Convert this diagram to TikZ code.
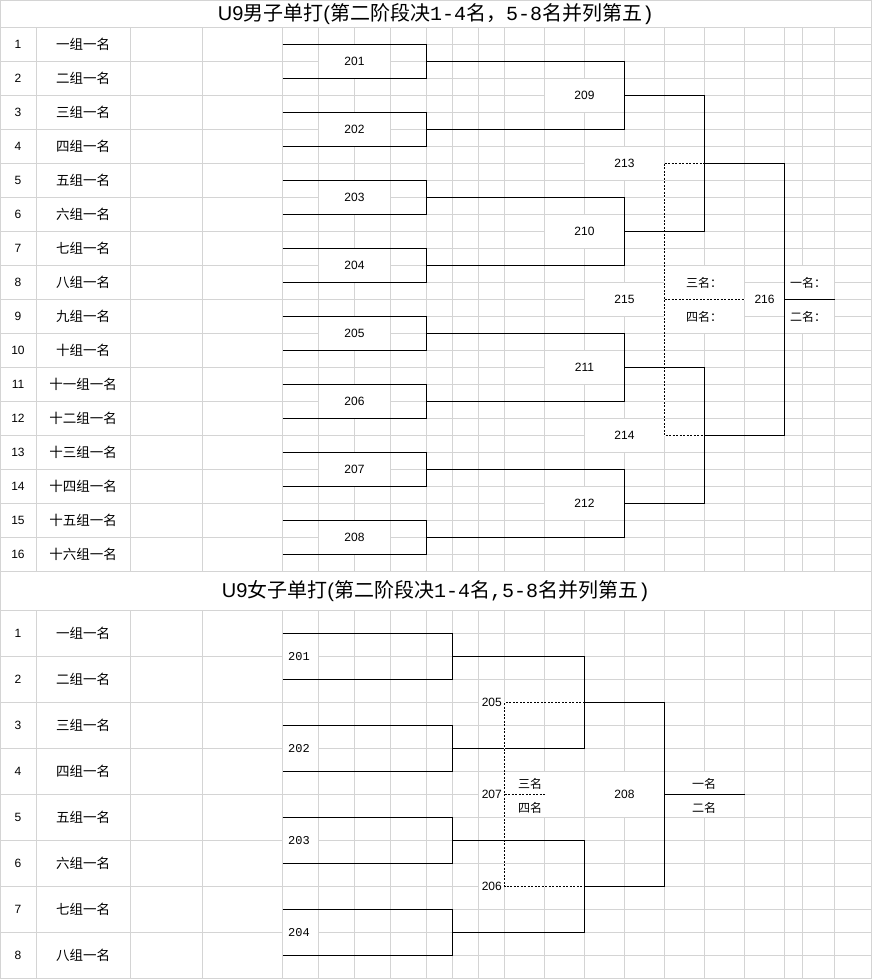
\documentclass[tikz,border=0pt]{standalone}
\usepackage{fontspec}
\setmainfont{Liberation Sans}
\newfontfamily\cjk{Noto Sans CJK SC}
\newfontfamily\monof{Liberation Mono}
\newcommand\zh[1]{{\cjk #1}}
\newcommand\mo[1]{{\monof #1}}
\definecolor{gridc}{HTML}{D4D4D4}
\begin{document}
\begin{tikzpicture}[x=1pt,y=-1pt,
  gridline/.style={draw=gridc,line width=1pt},
  br/.style={draw=black,line width=1pt},
  dbr/.style={draw=black,line width=1pt,dash pattern=on 2pt off 1.5pt,
    preaction={draw=white,line width=1.4pt,solid}},
  ttl/.style={inner sep=0pt,font=\fontsize{20}{24}\selectfont},
  num/.style={inner sep=0pt,font=\fontsize{12}{14}\selectfont},
  nm/.style={inner sep=0pt,font=\cjk\fontsize{13.5}{16}\selectfont},
  sm/.style={inner sep=0pt,font=\cjk\fontsize{12}{14}\selectfont},
  mlab/.style={inner sep=0pt,font=\monof\fontsize{12}{14}\selectfont}]
\useasboundingbox (0,0) rectangle (872,979);
\fill[white] (0,0) rectangle (872,979);
\begin{scope}[shift={(0.5,0.5)}]
% ---------- grid, top section
\foreach \y in {27,61,...,571} \draw[gridline] (0,\y) -- (282,\y);
\foreach \y in {27,44,...,571} \draw[gridline] (282,\y) -- (871,\y);
\foreach \x in {36,130,202,282,318,354,390,426,452,478,504,544,584,624,664,704,744,784,802,834}
  \draw[gridline] (\x,27) -- (\x,571);
% ---------- grid, bottom section
\foreach \y in {610,656,...,978} \draw[gridline] (0,\y) -- (282,\y);
\foreach \y in {610,633,...,978} \draw[gridline] (282,\y) -- (871,\y);
\foreach \x in {36,130,202,282,318,354,390,426,452,478,504,544,584,624,664,704,744,784,802,834}
  \draw[gridline] (\x,610) -- (\x,978);
\draw[gridline] (0,0) rectangle (871,978);
% ---------- merged cells
\foreach \a/\b/\c/\d in {
  318/44/390/78, 318/112/390/146, 318/180/390/214, 318/248/390/282,
  318/316/390/350, 318/384/390/418, 318/452/390/486, 318/520/390/554,
  544/78/624/112, 544/214/624/248, 544/350/624/384, 544/486/624/520,
  584/146/664/180, 584/282/664/316, 584/418/664/452,
  664/265/744/333, 744/282/784/316, 784/265/834/333,
  282/633/318/679, 282/725/318/771, 282/817/318/863, 282/909/318/955,
  478/679/504/725, 478/771/504/817, 478/863/504/909,
  504/771/584/817, 584/771/664/817, 664/771/744/817}
  \fill[white] (\a+0.5,\b+0.5) rectangle (\c-0.5,\d-0.5);
% ---------- top bracket
\foreach \i in {0,...,7}{
  \pgfmathtruncatemacro\yt{44+68*\i}
  \pgfmathtruncatemacro\yb{78+68*\i}
  \pgfmathtruncatemacro\ym{61+68*\i}
  \coordinate (ta\i) at (282,\yt);
  \coordinate (tb\i) at (426,\yt);
  \coordinate (tc\i) at (426,\yb);
  \coordinate (td\i) at (282,\yb);
  \coordinate (to\i) at (426,\ym);
  \coordinate (tp\i) at (624,\ym);
  \draw[br] (ta\i) -- (tb\i) -- (tc\i) -- (td\i);
  \draw[br] (to\i) -- (tp\i);
}
\foreach \j/\k/\l in {0/0/1,1/2/3,2/4/5,3/6/7}{
  \pgfmathtruncatemacro\ym{95+136*\j}
  \coordinate (tq\j) at (624,\ym);
  \coordinate (tr\j) at (704,\ym);
  \draw[br] (tp\k) -- (tp\l);
  \draw[br] (tq\j) -- (tr\j);
}
\coordinate (ts1a) at (704,163); \coordinate (ts1b) at (784,163);
\coordinate (ts2a) at (704,435); \coordinate (ts2b) at (784,435);
\coordinate (tf1) at (784,299);  \coordinate (tf2) at (834,299);
\coordinate (td1) at (664,163);  \coordinate (td2) at (664,435);
\coordinate (td3) at (664,299);  \coordinate (td4) at (744,299);
\draw[dbr] (td1) -- (ts1a);
\draw[dbr] (td1) -- (td2) -- (ts2a);
\draw[dbr] (td3) -- (td4);
\draw[br] (tr0) -- (tr1);
\draw[br] (tr2) -- (tr3);
\draw[br] (ts1a) -- (ts1b) -- (ts2b) -- (ts2a);
\draw[br] (tf1) -- (tf2);
% ---------- bottom bracket
\foreach \i in {0,...,3}{
  \pgfmathtruncatemacro\yt{633+92*\i}
  \pgfmathtruncatemacro\yb{679+92*\i}
  \pgfmathtruncatemacro\ym{656+92*\i}
  \coordinate (ba\i) at (282,\yt);
  \coordinate (bb\i) at (452,\yt);
  \coordinate (bc\i) at (452,\yb);
  \coordinate (bd\i) at (282,\yb);
  \coordinate (bo\i) at (452,\ym);
  \coordinate (bp\i) at (584,\ym);
  \draw[br] (ba\i) -- (bb\i) -- (bc\i) -- (bd\i);
  \draw[br] (bo\i) -- (bp\i);
}
\coordinate (bq0) at (584,702); \coordinate (br0) at (664,702);
\coordinate (bq1) at (584,886); \coordinate (br1) at (664,886);
\coordinate (bf1) at (664,794); \coordinate (bf2) at (744,794);
\coordinate (bd1) at (504,702); \coordinate (bd2) at (504,886);
\coordinate (bd3) at (504,794); \coordinate (bd4) at (544,794);
\draw[dbr] (bq0) -- (bd1) -- (bd2) -- (bq1);
\draw[dbr] (bd3) -- (bd4);
\draw[br] (bp0) -- (bp1);
\draw[br] (bp2) -- (bp3);
\draw[br] (bq0) -- (br0) -- (br1) -- (bq1);
\draw[br] (bf1) -- (bf2);
\end{scope}
% ---------- titles
\node[ttl] (title1) at (436,14.5) {U9\zh{男子单打}(\zh{第二阶段决}\mo{1-4}\zh{名，}\mo{5-8}\zh{名并列第五}\mo{)}};
\node[ttl] (title2) at (436,591) {U9\zh{女子单打}(\zh{第二阶段决}\mo{1-4}\zh{名}\mo{,5-8}\zh{名并列第五}\mo{)}};
% ---------- top names
\foreach \n/\t [count=\c from 0] in {1/一组一名,2/二组一名,3/三组一名,4/四组一名,5/五组一名,6/六组一名,7/七组一名,8/八组一名,9/九组一名,10/十组一名,11/十一组一名,12/十二组一名,13/十三组一名,14/十四组一名,15/十五组一名,16/十六组一名}{
  \node[num] (tn\n) at (18,44+34*\c) {\n};
  \node[nm] (tname\n) at (83,44+34*\c) {\t};
}
% ---------- bottom names
\foreach \n/\t [count=\c from 0] in {1/一组一名,2/二组一名,3/三组一名,4/四组一名,5/五组一名,6/六组一名,7/七组一名,8/八组一名}{
  \node[num] (bn\n) at (18,633.5+46*\c) {\n};
  \node[nm] (bname\n) at (83,633.5+46*\c) {\t};
}
% ---------- top match labels
\foreach \i in {0,...,7}{
  \pgfmathtruncatemacro\lab{201+\i}
  \node[num] (tm\lab) at (354.5,61.5+68*\i) {\lab};
}
\foreach \j in {0,...,3}{
  \pgfmathtruncatemacro\lab{209+\j}
  \node[num] (tm\lab) at (584.5,95.5+136*\j) {\lab};
}
\node[num] (tm213) at (624.5,163.5) {213};
\node[num] (tm215) at (624.5,299.5) {215};
\node[num] (tm214) at (624.5,435.5) {214};
\node[num] (tm216) at (764.5,299.5) {216};
\node[sm] (t3) at (704,283) {三名：};
\node[sm] (t4) at (704,317) {四名：};
\node[sm] (t1) at (808,283) {一名：};
\node[sm] (t2) at (808,317) {二名：};
% ---------- bottom match labels
\foreach \i in {0,...,3}{
  \pgfmathtruncatemacro\lab{201+\i}
  \node[mlab,anchor=west] (bm\lab) at (288,657+92*\i) {\lab};
}
\node[num,anchor=east] (bm205) at (502,702.5) {205};
\node[num,anchor=east] (bm207) at (502,794.5) {207};
\node[num,anchor=east] (bm206) at (502,886.5) {206};
\node[num] (bm208) at (624.5,794.5) {208};
\node[sm] (b3) at (530,784) {三名};
\node[sm] (b4) at (530,808) {四名};
\node[sm] (b1) at (704,784) {一名};
\node[sm] (b2) at (704,808) {二名};
\end{tikzpicture}
\end{document}
